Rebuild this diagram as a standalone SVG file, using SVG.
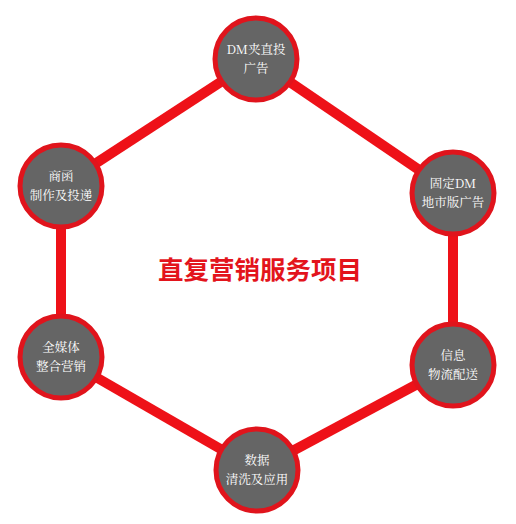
<svg xmlns="http://www.w3.org/2000/svg" width="516" height="524" viewBox="0 0 516 524">
<style>
.ring{fill:#656565;stroke:#e0141c;stroke-width:5}
.lbl{fill:#ffffff;font-family:"Noto Serif CJK SC","Liberation Serif","Noto Sans CJK SC",serif;font-size:12.5px;text-anchor:middle}
.edge{stroke:#ee1118;stroke-width:10;fill:none;stroke-linecap:butt}
.title{fill:#e3141c;font-family:"Noto Sans CJK SC",sans-serif;font-size:25.5px;font-weight:bold;text-anchor:middle}
</style>
<rect width="516" height="524" fill="#ffffff"/>
<g id="connectors">
<line class="edge" x1="256" y1="59" x2="453" y2="193"/>
<line class="edge" x1="453" y1="193" x2="453" y2="365"/>
<line class="edge" x1="453" y1="365" x2="257" y2="470"/>
<line class="edge" x1="257" y1="470" x2="61" y2="357"/>
<line class="edge" x1="61" y1="357" x2="61" y2="186"/>
<line class="edge" x1="61" y1="186" x2="256" y2="59"/>
</g>
<g id="n1"><circle class="ring" cx="256" cy="59" r="41"/><text class="lbl" x="256" y="54">DM夹直投</text><text class="lbl" x="256" y="72.5">广告</text></g>
<g id="n2"><circle class="ring" cx="453" cy="193" r="41"/><text class="lbl" x="453" y="188">固定DM</text><text class="lbl" x="453" y="206.5">地市版广告</text></g>
<g id="n3"><circle class="ring" cx="453" cy="365" r="41"/><text class="lbl" x="453" y="360">信息</text><text class="lbl" x="453" y="378.5">物流配送</text></g>
<g id="n4"><circle class="ring" cx="257" cy="470" r="41"/><text class="lbl" x="257" y="465">数据</text><text class="lbl" x="257" y="483.5">清洗及应用</text></g>
<g id="n5"><circle class="ring" cx="61" cy="357" r="41"/><text class="lbl" x="61" y="352">全媒体</text><text class="lbl" x="61" y="370.5">整合营销</text></g>
<g id="n6"><circle class="ring" cx="61" cy="186" r="41"/><text class="lbl" x="61" y="181">商函</text><text class="lbl" x="61" y="199.5">制作及投递</text></g>
<g id="title"><text class="title" x="260" y="279">直复营销服务项目</text></g>
</svg>
